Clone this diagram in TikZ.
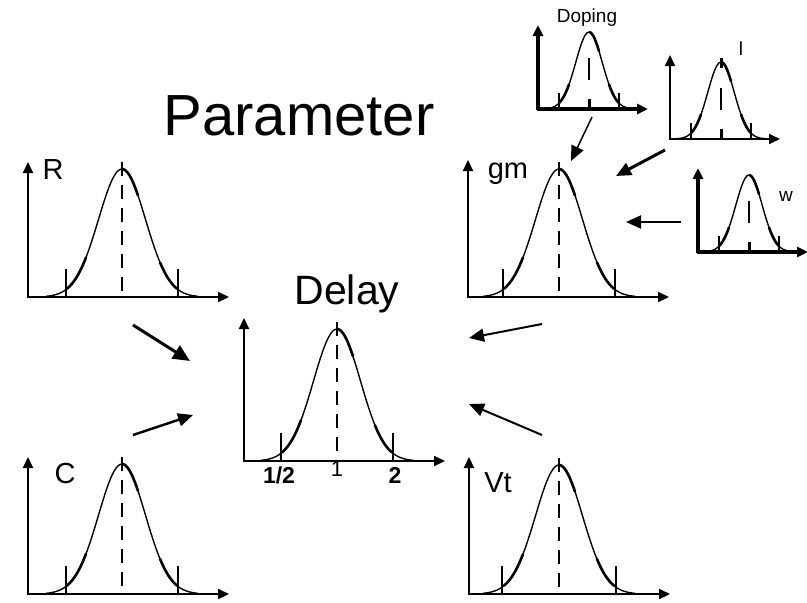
\documentclass[tikz,border=0pt]{standalone}
\usepackage{fontspec}
\setmainfont{Liberation Sans}
\usetikzlibrary{arrows.meta}
\tikzset{
  axisline/.style={line width=2.2pt,-{Triangle[length=11pt,width=10pt]}},
  tickline/.style={line width=1.4pt},
  dashline/.style={line width=1.7pt,dash pattern=on 14pt off 9pt},
  curve/.style={line width=1.4pt,line join=round},
  curvethick/.style={line width=2.6pt,line cap=round},
  conn/.style={-{Triangle[length=15pt,width=13pt]}},
  lbl/.style={font=\fontsize{29}{34}\selectfont,inner sep=0pt},
  smalllbl/.style={font=\fontsize{19}{23}\selectfont,inner sep=0pt},
  numlbl/.style={font=\fontsize{22}{26}\selectfont,inner sep=0pt},
  boldnum/.style={font=\bfseries\fontsize{23}{27}\selectfont,inner sep=0pt},
  titlelbl/.style={inner sep=0pt}
}
% #1 name, #2 ox, #3 oy, #4 peak dx, #5 tick half, #6 axis height, #7 peak height
\newcommand{\distplot}[7]{%
\begin{scope}[shift={(#2,#3)}]
 \coordinate (#1) at (#4,0);
 \draw[axisline] (0,1) -- (0,-#6);
 \draw[axisline] (-1,0) -- (201,0);
 \draw[tickline] (#4-#5,0) -- ++(0,-28);
 \draw[tickline] (#4+#5,0) -- ++(0,-28);
 \draw[dashline] (#4,-#7-7) -- (#4,0);
 \draw[curve] plot[domain=-76:76,samples=77,smooth] ({#4+\x},{-#7*exp(-(\x*\x)/1104)});
 \draw[curvethick] plot[domain=-55:-36,samples=8,smooth] ({#4+\x},{-#7*exp(-(\x*\x)/1104)});
 \draw[curvethick] plot[domain=1:16,samples=8,smooth] ({#4+\x},{-#7*exp(-(\x*\x)/1104)});
 \draw[curvethick] plot[domain=38:55,samples=8,smooth] ({#4+\x},{-#7*exp(-(\x*\x)/1104)});
\end{scope}}
% #1 name, #2 ox, #3 oy, #4 axis line width
\newcommand{\smalldist}[4]{%
\begin{scope}[shift={(#2,#3)}]
 \coordinate (#1) at (51,0);
 \draw[axisline,line width=#4] (0,1) -- (0,-84);
 \draw[axisline,line width=#4] (-1,0) -- (110,0);
 \draw[tickline] (21,0) -- ++(0,-16);
 \draw[tickline] (81,0) -- ++(0,-16);
 \draw[line width=1.7pt] (51,-29) -- (51,-51);
 \draw[line width=3pt] (51,0) -- (51,-10);
 \draw[curve] plot[domain=-44:44,samples=45,smooth] ({51+\x},{-77*exp(-(\x*\x)/350)});
 \draw[curvethick] plot[domain=-30:-20,samples=6,smooth] ({51+\x},{-77*exp(-(\x*\x)/350)});
 \draw[curvethick] plot[domain=1:10,samples=6,smooth] ({51+\x},{-77*exp(-(\x*\x)/350)});
 \draw[curvethick] plot[domain=20:30,samples=6,smooth] ({51+\x},{-77*exp(-(\x*\x)/350)});
\end{scope}}

\begin{document}
\begin{tikzpicture}[x=1pt,y=-1pt]
\useasboundingbox (0,0) rectangle (807,603);

% large distributions
\distplot{pR}{28}{297}{94}{56}{135}{128}
\distplot{pC}{28}{594}{94}{56}{137}{130}
\distplot{pgm}{468}{297}{91}{56}{137}{128}
\distplot{pVt}{469}{594}{90}{57}{137}{129}
\distplot{pDelay}{244}{461}{93}{56}{143}{132}

% small distributions
\smalldist{pDoping}{538}{109}{3.5pt}
\smalldist{pl}{670}{139}{2pt}
\draw[line width=3pt] (721,-71+139) -- (721,-81+139);
\smalldist{pw}{698}{252}{4pt}

% titles and labels
\node[titlelbl,font=\fontsize{58}{66}\selectfont] (tParam) at (299,116) {Parameter};
\node[titlelbl,font=\fontsize{41}{47}\selectfont] (tDelay) at (347,294) {Delay};
\node[lbl] (lR) at (53,170) {R};
\node[lbl] (lC) at (65,474) {C};
\node[lbl] (lgm) at (508,174) {gm};
\node[lbl] (lVt) at (498,483) {Vt};
\node[smalllbl] (lDoping) at (587,18) {Doping};
\node[smalllbl] (ll) at (741,49) {l};
\node[smalllbl] (lw) at (786,196) {w};
\node[boldnum] (nHalf) at (279,475) {1/2};
\node[numlbl] (nOne) at (337,469) {1};
\node[boldnum] (nTwo) at (395,475) {2};

% connector end points
\coordinate (aRs) at (133,325);  \coordinate (aRe) at (190,361);
\coordinate (aCs) at (133,435);  \coordinate (aCe) at (193,415);
\coordinate (aGs) at (542,324);  \coordinate (aGe) at (469,338);
\coordinate (aVs) at (542,435);  \coordinate (aVe) at (469,404);
\coordinate (aDs) at (592,117);  \coordinate (aDe) at (571,161);
\coordinate (aLs) at (665,150);  \coordinate (aLe) at (616,176);
\coordinate (aWs) at (681,222);  \coordinate (aWe) at (626,222);

\draw[conn,line width=3pt,-{Triangle[length=17pt,width=15pt]}] (aRs) -- (aRe);
\draw[conn,line width=2.4pt] (aCs) -- (aCe);
\draw[conn,line width=2pt] (aGs) -- (aGe);
\draw[conn,line width=2pt] (aVs) -- (aVe);
\draw[conn,line width=1.5pt] (aDs) -- (aDe);
\draw[conn,line width=3pt] (aLs) -- (aLe);
\draw[conn,line width=2pt] (aWs) -- (aWe);
\end{tikzpicture}
\end{document}
